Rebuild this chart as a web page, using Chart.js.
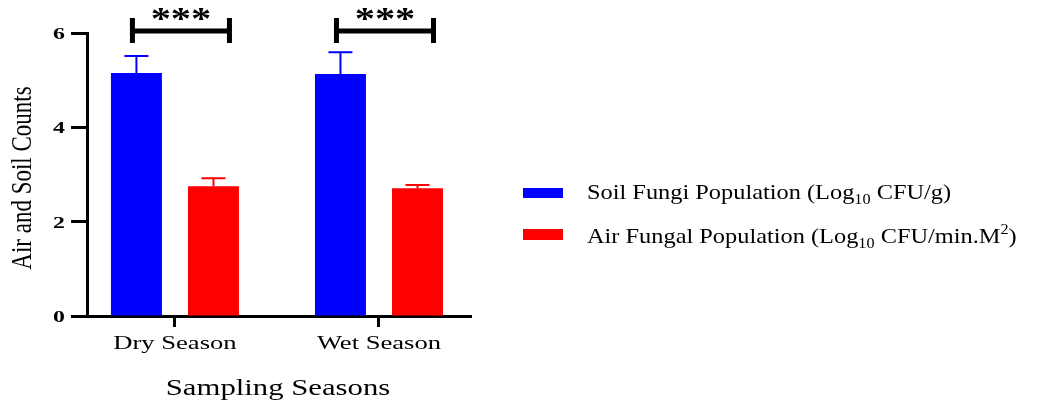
<!DOCTYPE html>
<html>
<head>
<meta charset="utf-8">
<script src="https://cdn.jsdelivr.net/npm/chart.js@4.4.1/dist/chart.umd.min.js"></script>
<style>
  html, body { margin: 0; padding: 0; background: #fff; }
  #wrap { width: 1057px; height: 404px; position: relative; }
</style>
</head>
<body>
<div id="wrap"><canvas id="chart"></canvas></div>
<script>
// values
const seasons = ["Dry Season", "Wet Season"];
const soilMeans = [5.15, 5.13];
const soilErr = [0.36, 0.46];
const airMeans = [2.75, 2.71];
const airErr = [0.17, 0.07];
const yTicks = [0, 2, 4, 6];
const sigLabels = ["***", "***"];

const SOIL_COLOR = "#0000FF";
const AIR_COLOR = "#FF0000";
const SERIF = "'Liberation Serif', 'DejaVu Serif', serif";
const SX = 1.35; // the figure's text is stretched sideways

function stretchedText(ctx, text, x, y, font, align, sx) {
  ctx.save();
  ctx.font = font;
  ctx.textAlign = align;
  ctx.textBaseline = "alphabetic";
  ctx.translate(x, y);
  ctx.scale(sx || SX, 1);
  ctx.fillText(text, 0, 0);
  ctx.restore();
}

// error bars, brackets, labels and legend
const decorations = {
  id: "decorations",
  afterDatasetsDraw(chart) {
    const ctx = chart.ctx;
    const errs = [soilErr, airErr];
    chart.data.datasets.forEach((ds, di) => {
      chart.getDatasetMeta(di).data.forEach((bar, i) => {
        const top = chart.scales.y.getPixelForValue(ds.data[i].y + errs[di][i]);
        ctx.save();
        ctx.strokeStyle = ds.backgroundColor;
        ctx.lineWidth = 2;
        ctx.beginPath();
        ctx.moveTo(bar.x, bar.y);
        ctx.lineTo(bar.x, top);
        ctx.moveTo(bar.x - 12, top);
        ctx.lineTo(bar.x + 12, top);
        ctx.stroke();
        ctx.restore();
      });
    });
  },
  afterDraw(chart) {
    const ctx = chart.ctx;
    const x = chart.scales.x;
    const y = chart.scales.y;
    ctx.fillStyle = "#000";

    // y tick labels
    yTicks.forEach((v) => {
      stretchedText(ctx, String(v), 65, y.getPixelForValue(v) + 6, "bold 17px " + SERIF, "right", 1.4);
    });
    // y title
    ctx.save();
    ctx.font = "23px " + SERIF;
    ctx.textAlign = "center";
    ctx.translate(31, 178);
    ctx.scale(1.3, 1);
    ctx.rotate(-Math.PI / 2);
    ctx.fillText("Air and Soil Counts", 0, 0);
    ctx.restore();

    // category labels and x title
    seasons.forEach((s, i) => {
      stretchedText(ctx, s, x.getPixelForValue(i), 349, "19px " + SERIF, "center", 1.4);
    });
    stretchedText(ctx, "Sampling Seasons", 278, 395, "24px " + SERIF, "center", 1.28);

    // significance brackets
    const soilBars = chart.getDatasetMeta(0).data;
    const airBars = chart.getDatasetMeta(1).data;
    sigLabels.forEach((lab, i) => {
      const x0 = soilBars[i].x - 4;
      const x1 = airBars[i].x + 16;
      const yl = y.top - 2;
      ctx.save();
      ctx.strokeStyle = "#000";
      ctx.lineWidth = 5;
      ctx.beginPath();
      ctx.moveTo(x0, yl);
      ctx.lineTo(x1, yl);
      ctx.moveTo(x0, yl - 13);
      ctx.lineTo(x0, yl + 12);
      ctx.moveTo(x1, yl - 13);
      ctx.lineTo(x1, yl + 12);
      ctx.stroke();
      ctx.restore();
      stretchedText(ctx, lab, (x0 + x1) / 2, 29, "bold 31px " + SERIF, "center", 1.3);
    });

    // legend
    const lx = 523, tx = 587;
    const big = "21px " + SERIF, small = "14px " + SERIF;
    const LSX = 1.16;
    function run(parts, x0, base) {
      let cx = x0;
      parts.forEach(([t, f, dy]) => {
        stretchedText(ctx, t, cx, base + dy, f, "left", LSX);
        ctx.font = f;
        cx += ctx.measureText(t).width * LSX;
      });
    }
    ctx.fillStyle = SOIL_COLOR;
    ctx.fillRect(lx, 188, 40, 10);
    ctx.fillStyle = AIR_COLOR;
    ctx.fillRect(lx, 229, 40, 11);
    ctx.fillStyle = "#000";
    run([["Soil Fungi Population (Log", big, 0], ["10", small, 5], [" CFU/g)", big, 0]], tx, 199);
    run([["Air Fungal Population (Log", big, 0], ["10", small, 5], [" CFU/min.M", big, 0], ["2", small, -9], [")", big, 0]], tx, 243);
  },
};

new Chart(document.getElementById("chart"), {
  type: "bar",
  data: {
    datasets: [
      {
        label: "Soil Fungi Population",
        data: seasons.map((s, i) => ({ x: i, y: soilMeans[i] })),
        backgroundColor: SOIL_COLOR,
      },
      {
        label: "Air Fungal Population",
        data: seasons.map((s, i) => ({ x: i, y: airMeans[i] })),
        backgroundColor: AIR_COLOR,
      },
    ],
  },
  options: {
    responsive: true,
    maintainAspectRatio: false,
    animation: false,
    devicePixelRatio: 1,
    categoryPercentage: 0.755,
    barPercentage: 0.662,
    layout: { padding: { top: 33, right: 586, bottom: 0, left: 0 } },
    plugins: { legend: { display: false }, tooltip: { enabled: false } },
    scales: {
      x: {
        type: "linear",
        offset: false,
        min: -0.431,
        max: 1.451,
        afterBuildTicks: (s) => { s.ticks = seasons.map((_, i) => ({ value: i })); },
        afterFit: (s) => { s.height = 88; },
        ticks: { display: false },
        grid: { offset: false, drawOnChartArea: false, drawTicks: true, tickLength: 11, tickWidth: 3, tickColor: "#000" },
        border: { display: true, width: 3, color: "#000" },
      },
      y: {
        min: 0,
        max: 6,
        afterBuildTicks: (s) => { s.ticks = yTicks.map((v) => ({ value: v })); },
        afterFit: (s) => { s.width = 87; },
        ticks: { display: false },
        grid: { drawOnChartArea: false, drawTicks: true, tickLength: 16, tickWidth: 3, tickColor: "#000" },
        border: { display: true, width: 3, color: "#000" },
      },
    },
  },
  plugins: [decorations],
});
</script>
</body>
</html>
